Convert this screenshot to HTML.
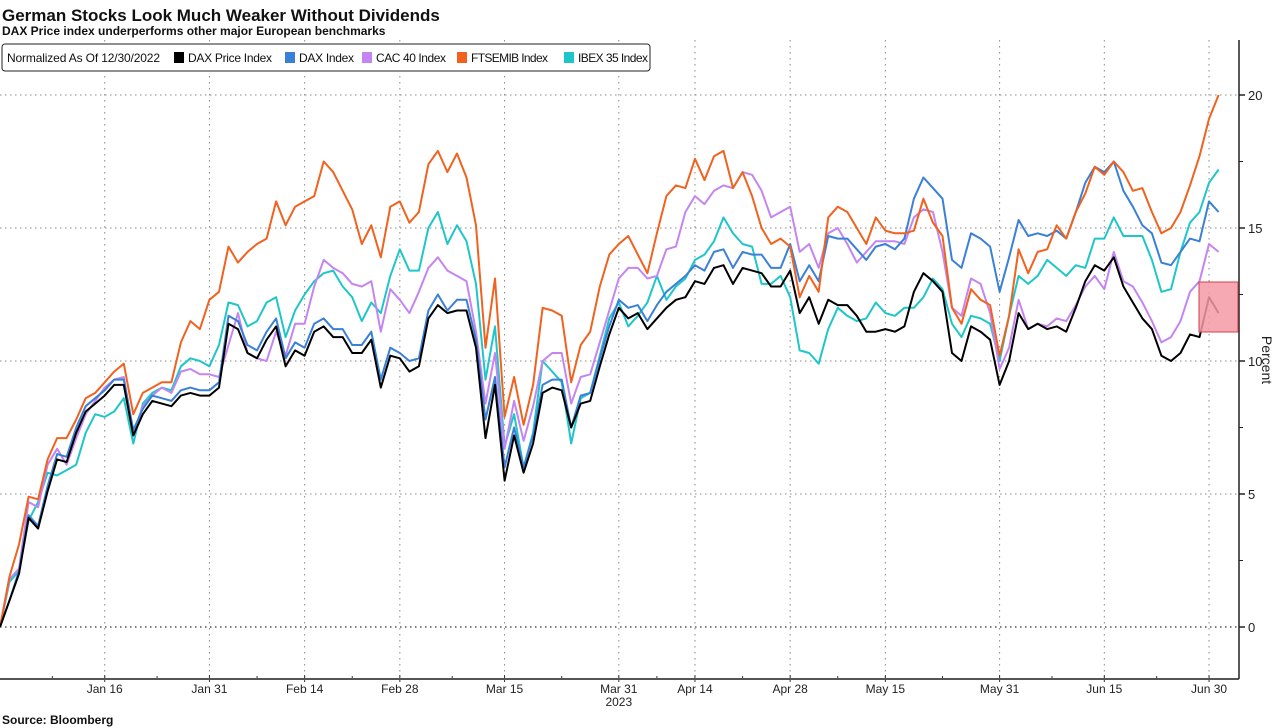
<!DOCTYPE html>
<html><head><meta charset="utf-8"><style>
html,body{margin:0;padding:0;background:#fff;}
svg{display:block;font-family:"Liberation Sans",sans-serif;}
</style></head><body>
<svg id="chart" width="1280" height="728" viewBox="0 0 1280 728" xmlns="http://www.w3.org/2000/svg">
<text x="2" y="21" font-size="17" font-weight="bold" fill="#111">German Stocks Look Much Weaker Without Dividends</text>
<text x="2" y="35" font-size="12" font-weight="bold" fill="#111">DAX Price index underperforms other major European benchmarks</text>
<g id="grid"></g>
<g id="axes"></g>
<g id="series"></g>
<rect x="1199" y="282" width="39" height="50" fill="#f59aa6" fill-opacity="0.85" stroke="#d0404f" stroke-width="1"/>
<g id="legend">
<rect x="2" y="44" width="648" height="27" rx="3" fill="#fff" stroke="#222" stroke-width="1"/>
<text x="7" y="62" font-size="12" fill="#111" textLength="153">Normalized As Of 12/30/2022</text>
</g>
<text x="2" y="724" font-size="12" font-weight="bold" fill="#111">Source:  Bloomberg</text>
<text transform="translate(1262,360) rotate(90)" font-size="14" fill="#222" text-anchor="middle">Percent</text>
</svg>
<script>
const tickDays = [11,22,32,42,53,65,73,83,93,105,116,127];
const tickLabels = ["Jan 16","Jan 31","Feb 14","Feb 28","Mar 15","Mar 31","Apr 14","Apr 28","May 15","May 31","Jun 15","Jun 30"];
const yTicks = [0,5,10,15,20];
const seriesNames = ["DAX Price Index","DAX Index","CAC 40 Index","FTSEMIB Index","IBEX 35 Index"];
const daxPrice = [0,1.0,2.0,4.1,3.7,5.1,6.3,6.2,7.3,8.1,8.4,8.7,9.1,9.1,7.2,8.0,8.5,8.4,8.3,8.7,8.8,8.7,8.7,9.0,11.4,11.2,10.3,10.1,10.8,11.3,9.8,10.4,10.2,11.1,11.3,10.9,10.9,10.3,10.3,10.8,9.0,10.2,10.1,9.6,9.8,11.6,12.1,11.8,11.9,11.9,10.5,7.1,9.1,5.5,7.2,5.8,6.9,8.8,9.0,8.9,7.5,8.4,8.5,9.8,11.0,12.0,11.6,11.8,11.2,11.6,12.0,12.3,12.4,13.0,12.9,13.5,13.6,12.9,13.5,13.4,13.3,12.8,12.8,13.4,11.8,12.4,11.4,12.3,12.1,12.1,11.7,11.1,11.1,11.2,11.1,11.3,12.6,13.3,13.0,12.6,10.3,10.0,11.3,11.1,10.8,9.1,10.0,11.8,11.2,11.4,11.2,11.3,11.1,12.0,13.0,13.6,13.4,13.9,12.8,12.2,11.6,11.2,10.2,10.0,10.3,11.0,10.9,12.4,11.8];
const daxIndex = [0,1.0,2.1,4.2,3.8,5.3,6.5,6.4,7.5,8.3,8.6,8.9,9.3,9.3,7.4,8.2,8.7,8.6,8.5,8.9,9.0,8.9,8.9,9.2,11.7,11.5,10.6,10.4,11.1,11.6,10.1,10.7,10.5,11.4,11.6,11.2,11.2,10.6,10.6,11.1,9.3,10.5,10.3,10.0,10.1,11.9,12.5,11.9,12.3,12.3,10.8,7.8,9.4,6.0,7.5,6.0,7.2,9.1,9.3,9.3,7.5,8.7,8.8,10.1,11.3,12.3,12.0,12.1,11.5,12.1,12.6,12.9,13.2,13.6,13.4,14.1,14.2,13.5,14.1,14.0,14.0,13.5,13.5,14.4,13.0,13.6,13.0,14.7,14.6,14.6,14.2,13.8,14.3,14.4,14.2,14.6,16.1,16.9,16.5,16.1,13.8,13.5,14.8,14.6,14.3,12.6,13.9,15.3,14.7,14.8,14.7,14.9,14.6,15.6,16.7,17.3,17.1,17.5,16.4,15.8,15.1,14.8,13.7,13.6,14.1,14.6,14.5,16.0,15.6];
const cac40 = [0,1.8,2.2,4.7,4.5,6.1,6.7,6.1,7.1,8.0,8.5,9.0,9.3,9.4,7.3,8.3,8.7,9.0,8.8,9.6,9.7,9.5,9.5,9.4,10.6,11.8,10.3,10.1,10.0,11.1,10.2,11.4,11.4,12.8,13.8,13.5,13.3,12.9,12.8,13.0,11.1,12.7,12.3,11.8,12.6,13.5,13.9,13.4,13.2,13.0,11.1,8.4,10.3,6.7,8.5,7.0,8.3,10.0,10.3,10.3,8.4,9.4,9.5,10.7,11.9,13.1,13.5,13.5,13.1,13.2,14.2,14.3,15.6,16.2,15.9,16.4,16.6,16.5,17.1,17.0,16.4,15.4,15.6,15.8,14.1,14.4,13.5,14.8,15.0,14.4,13.7,14.1,14.5,14.5,14.5,14.4,15.4,15.7,15.6,14.1,12.0,11.7,13.1,12.9,11.8,9.7,10.5,12.3,11.2,11.4,11.3,11.6,11.5,12.1,12.8,13.2,12.7,14.1,13.0,12.8,12.2,11.5,10.7,10.9,11.5,12.6,13.0,14.4,14.1];
const ftsemib = [0,1.9,3.1,4.9,4.8,6.3,7.1,7.1,7.8,8.6,8.8,9.2,9.6,9.9,8.0,8.8,9.0,9.2,9.2,10.7,11.5,11.2,12.3,12.6,14.3,13.7,14.1,14.4,14.6,16.0,15.1,15.8,16.0,16.2,17.5,17.1,16.4,15.7,14.4,15.1,13.9,15.8,16.0,15.2,15.6,17.4,17.9,17.1,17.8,16.9,15.1,10.5,13.1,7.9,9.4,7.6,9.1,12.0,11.9,11.7,9.2,10.6,11.1,12.8,14.0,14.4,14.7,14.0,13.3,14.8,16.2,16.6,16.5,17.6,16.8,17.7,17.9,16.5,17.1,16.2,15.0,14.4,14.6,14.3,12.4,13.2,12.6,15.4,15.8,15.6,15.0,14.4,15.4,14.9,14.8,14.8,14.9,16.1,15.2,14.7,12.0,11.4,12.7,12.3,12.1,10.2,11.7,14.2,13.3,14.1,14.2,15.1,14.6,15.6,16.3,17.3,17.0,17.5,17.1,16.4,16.5,15.6,14.8,15.0,15.6,16.6,17.7,19.1,20.0];
const ibex35 = [0,1.7,2.1,4.0,4.7,5.8,5.7,5.9,6.1,7.3,8.0,7.9,8.1,8.6,6.9,8.4,8.8,9.0,8.9,9.8,10.1,10.0,9.8,10.6,12.2,12.1,11.3,11.5,12.2,12.4,10.9,11.9,12.5,13.0,13.3,13.4,12.8,12.4,11.5,12.2,11.8,13.2,14.2,13.4,13.4,15.0,15.6,14.4,15.1,14.5,12.9,9.3,11.3,6.8,8.0,6.0,7.3,10.0,9.6,9.2,6.9,8.6,8.8,10.2,11.6,12.2,11.3,11.7,12.2,13.2,12.3,12.8,13.1,13.8,14.0,14.5,15.4,14.8,14.4,14.3,12.9,12.9,13.2,12.4,10.4,10.3,9.9,11.2,12.0,11.7,11.5,11.6,12.2,11.8,11.7,12.0,12.0,12.4,13.1,12.7,11.4,10.9,11.7,11.6,11.4,10.0,11.7,13.2,12.9,13.2,13.8,13.5,13.2,13.6,13.5,14.6,14.6,15.4,14.7,14.7,14.7,13.8,12.6,12.7,14.1,15.2,15.6,16.7,17.2];

const NS="http://www.w3.org/2000/svg";
const X0=0, PX=9.52, Y0=627, PY=26.6, AXR=1239, AXB=679, TOP=40;
function xs(d){return X0+d*PX;}
function ys(v){return Y0-v*PY;}
function mk(tag,attrs,parent){const e=document.createElementNS(NS,tag);for(const k in attrs)e.setAttribute(k,attrs[k]);parent.appendChild(e);return e;}
const grid=document.getElementById('grid'), axes=document.getElementById('axes'), ser=document.getElementById('series'), leg=document.getElementById('legend');

yTicks.forEach(v=>{
  const l=mk('line',{x1:0,x2:AXR,y1:ys(v),y2:ys(v),stroke:v===0?'#555':'#888','stroke-width':v===0?1.4:1,'stroke-dasharray':'1.5,3.5'},grid);
  
  
  const t=mk('line',{x1:AXR,x2:AXR+6,y1:ys(v),y2:ys(v),stroke:'#222','stroke-width':1.5},axes);
  
  
  const tx=mk('text',{x:AXR+9,y:ys(v)+5,'font-size':13,fill:'#222'},axes);
  tx.textContent=String(v);
  
  
});
for(let i=0;i<yTicks.length-1;i++){
  const mv=(yTicks[i]+yTicks[i+1])/2;
  const t=mk('line',{x1:AXR,x2:AXR+4,y1:ys(mv),y2:ys(mv),stroke:'#222','stroke-width':1},axes);
  
  
}
tickDays.forEach((d,i)=>{
  const g=mk('line',{x1:xs(d),x2:xs(d),y1:TOP,y2:AXB,stroke:'#888','stroke-width':1,'stroke-dasharray':'1.5,4.5'},grid);
  
  
  const t=mk('line',{x1:xs(d),x2:xs(d),y1:AXB-4,y2:AXB+3,stroke:'#333','stroke-width':1},axes);
  
  
  const tx=mk('text',{x:xs(d),y:AXB+14,'font-size':12,fill:'#222','text-anchor':'middle'},axes);
  tx.textContent=tickLabels[i];
  
  
  const prev=i===0?0:tickDays[i-1];
  const m=mk('line',{x1:xs((d+prev)/2),x2:xs((d+prev)/2),y1:AXB-3,y2:AXB,stroke:'#333','stroke-width':1},axes);
  
  
});
const yr=mk('text',{x:xs(65),y:AXB+27,'font-size':12,fill:'#222','text-anchor':'middle'},axes);
yr.textContent='2023';


const xa=mk('line',{x1:0,x2:AXR,y1:AXB,y2:AXB,stroke:'#555','stroke-width':2},axes);


const ya=mk('line',{x1:AXR,x2:AXR,y1:TOP,y2:AXB,stroke:'#222','stroke-width':1.5},axes);



const allSeries=[ibex35,cac40,daxIndex,ftsemib,daxPrice];
const colors=["#1fc6c9","#c585f0","#3a80d6","#f0621e","#000000"];
const sNames=["line-ibex-35","line-cac-40","line-dax-index","line-ftsemib","line-dax-price"];
allSeries.forEach((arr,i)=>{
  const pts=arr.map((v,d)=>xs(d).toFixed(1)+','+ys(v).toFixed(1)).join(' ');
  const p=mk('polyline',{points:pts,fill:'none',stroke:colors[i],'stroke-width':2,'stroke-linejoin':'round'},ser);
  
  
});

const legColors=["#000000","#3a80d6","#c585f0","#f0621e","#1fc6c9"];
const legX=[174,285,362,457,564];
const legW=[84,55,70,77,70];
seriesNames.forEach((n,i)=>{
  const s=mk('rect',{x:legX[i],y:52,width:10,height:11,fill:legColors[i]},leg);
  
  
  const t=mk('text',{x:legX[i]+14,y:62,'font-size':12,fill:'#111',textLength:legW[i]},leg);
  t.textContent=n;
  
  
});
</script>
</body></html>
